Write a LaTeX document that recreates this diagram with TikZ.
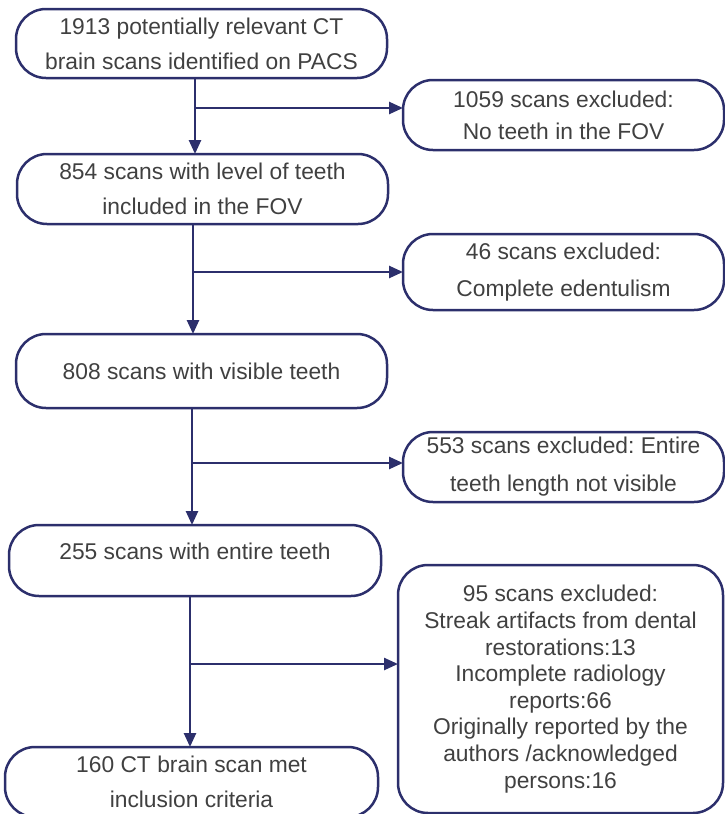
\documentclass[tikz,border=0pt]{standalone}
\usepackage{fontspec}
\setmainfont{Liberation Sans}
\usetikzlibrary{arrows.meta}
\definecolor{flownavy}{HTML}{2C2F6C}
\definecolor{flowtext}{HTML}{404040}

\begin{document}
\begin{tikzpicture}[x=1pt,y=-1pt,>={Triangle[length=14pt,width=12pt]},
  every node/.style={font=\fontsize{22.8}{35}\selectfont\frenchspacing,text=flowtext},
  box/.style={draw=flownavy,line width=2.5pt,rounded corners=30pt,align=center,inner sep=0pt,outer sep=0pt},
  link/.style={draw=flownavy,line width=2.5pt,->}]
\useasboundingbox (0,0) rectangle (725,814);

% Main boxes
\node[box,minimum width=371pt,minimum height=69pt] (scans) at (201.5,43.5) {1913 potentially relevant CT\\brain scans identified on PACS};
\node[box,minimum width=371pt,minimum height=70pt] (level) at (202.5,189) {854 scans with level of teeth\\included in the FOV};
\node[box,minimum width=371pt,minimum height=74pt] (visible) at (201.5,371) {808 scans with visible teeth};
\node[box,minimum width=372pt,minimum height=71pt,text depth=18pt] (entire) at (195,560.5) {255 scans with entire teeth};
\node[box,minimum width=373pt,minimum height=70pt] (met) at (191.5,782) {160 CT brain scan met\\inclusion criteria};

% Exclusion boxes
\node[box,minimum width=321pt,minimum height=70pt,font=\fontsize{22.8}{32}\selectfont\frenchspacing] (nofov) at (563.5,115) {1059 scans excluded:\\No teeth in the FOV};
\node[box,minimum width=321pt,minimum height=76pt,font=\fontsize{22.8}{37}\selectfont\frenchspacing] (edent) at (563.5,272) {46 scans excluded:\\Complete edentulism};
\node[box,minimum width=321pt,minimum height=70pt,font=\fontsize{22.8}{38}\selectfont\frenchspacing] (length) at (563.5,467) {553 scans excluded: Entire\\teeth length not visible};
\node[box,minimum width=325pt,minimum height=248pt,font=\fontsize{22.8}{26.6}\selectfont\frenchspacing] (artef) at (560.5,689) {95 scans excluded:\\Streak artifacts from dental\\restorations:13\\Incomplete radiology\\reports:66\\Originally reported by the\\authors /acknowledged\\persons:16};

% Junctions on the main line
\coordinate (j1) at (195,108);
\coordinate (j2) at (193,272);
\coordinate (j3) at (192,463);
\coordinate (j4) at (190,664);

% Arrows
\draw[link] (scans.south -| j1) -- (level.north -| j1);
\draw[link] (j1) -- (nofov.west |- j1);
\draw[link] (level.south -| j2) -- (visible.north -| j2);
\draw[link] (j2) -- (edent.west |- j2);
\draw[link] (visible.south -| j3) -- (entire.north -| j3);
\draw[link] (j3) -- (length.west |- j3);
\draw[link] (entire.south -| j4) -- (met.north -| j4);
\draw[link] (j4) -- (artef.west |- j4);
\end{tikzpicture}
\end{document}
